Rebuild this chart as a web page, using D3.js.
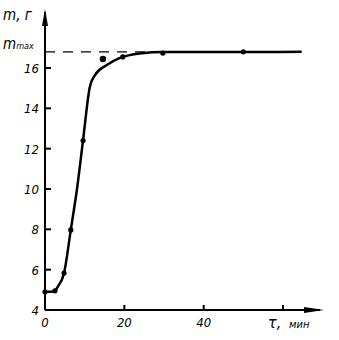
<!DOCTYPE html>
<html>
<head>
<meta charset="utf-8">
<script src="https://cdn.jsdelivr.net/npm/d3@7"></script>
<style>
  body { margin: 0; background: #fff; }
  text { font-family: "Liberation Sans Narrow", "DejaVu Sans Condensed", sans-serif; font-style: italic; fill: #000; }
</style>
</head>
<body>
<svg id="chart" width="339" height="340"></svg>
<script>
// fitted curve
var curveT = [0, 2.3, 3.2, 4.8, 6.5, 8.1, 9.6, 11.3, 12.6, 15.6, 18.9, 23.9, 30, 64.7]
var curveM = [4.9, 4.92, 5.15, 5.83, 7.97, 10.05, 12.43, 15.06, 15.65, 16.15, 16.5, 16.72, 16.79, 16.8]

// measured points
var pointT = [0, 2.5, 4.8, 6.5, 9.6, 14.6, 19.6, 29.7, 50]
var pointM = [4.9, 4.95, 5.83, 7.97, 12.4, 16.45, 16.55, 16.74, 16.8]

var mMax = 16.8
var xTicks = [0, 20, 40, 60]
var xTickLabels = ["0", "20", "40", ""]
var yTicks = [6, 8, 10, 12, 14, 16]

var svg = d3.select("#chart")

var x = d3.scaleLinear().domain([0, 60]).range([45, 283])
var y = d3.scaleLinear().domain([4, 16]).range([310, 68])

// axes
svg.append("line").attr("x1", 45).attr("x2", 45).attr("y1", 310).attr("y2", 12)
    .attr("stroke", "#000").attr("stroke-width", 2)
svg.append("line").attr("x1", 45).attr("x2", 320).attr("y1", 310).attr("y2", 310)
    .attr("stroke", "#000").attr("stroke-width", 2)

// arrows
svg.append("path").attr("d", "M45,9 L48,26 L42,26 Z").attr("fill", "#000")
svg.append("path").attr("d", "M324,310 L304,307 L304,313 Z").attr("fill", "#000")

// y ticks
svg.selectAll(".yt").data(yTicks).enter().append("line")
    .attr("x1", 45).attr("x2", 51)
    .attr("y1", function (d) { return y(d) }).attr("y2", function (d) { return y(d) })
    .attr("stroke", "#000").attr("stroke-width", 2)

svg.selectAll(".yl").data([4].concat(yTicks)).enter().append("text")
    .attr("x", 39).attr("y", function (d) { return y(d) + 5 })
    .attr("text-anchor", "end").attr("font-size", 13)
    .text(function (d) { return d })

// x ticks
svg.selectAll(".xt").data(xTicks.slice(1)).enter().append("line")
    .attr("x1", function (d) { return x(d) }).attr("x2", function (d) { return x(d) })
    .attr("y1", 310).attr("y2", 305)
    .attr("stroke", "#000").attr("stroke-width", 2)

svg.selectAll(".xl").data(xTicks).enter().append("text")
    .attr("x", function (d) { return x(d) }).attr("y", 327)
    .attr("text-anchor", "middle").attr("font-size", 13)
    .text(function (d, i) { return xTickLabels[i] })

// axis titles
svg.append("text").attr("x", 268).attr("y", 328).attr("font-size", 16).text("τ,")
svg.append("text").attr("x", 289).attr("y", 328).attr("font-size", 11).text("мин")
svg.append("text").attr("x", 3).attr("y", 20).attr("font-size", 15).text("m, г")
var mm = svg.append("text").attr("x", 3).attr("y", 49).attr("font-size", 15)
mm.append("tspan").text("m")
mm.append("tspan").attr("font-size", 9).text("max")

// m max dashed line
svg.append("line").attr("x1", 45).attr("x2", 300).attr("y1", y(mMax)).attr("y2", y(mMax))
    .attr("stroke", "#000").attr("stroke-width", 1.3).attr("stroke-dasharray", "10,8")

// curve
var line = d3.line()
    .x(function (d) { return x(d[0]) })
    .y(function (d) { return y(d[1]) })
    .curve(d3.curveMonotoneX)

svg.append("path").datum(d3.zip(curveT, curveM))
    .attr("d", line).attr("fill", "none")
    .attr("stroke", "#000").attr("stroke-width", 2.5)

svg.selectAll(".pt").data(d3.zip(pointT, pointM)).enter().append("circle")
    .attr("cx", function (d) { return x(d[0]) })
    .attr("cy", function (d) { return y(d[1]) })
    .attr("r", function (d, i) { return i == 5 ? 3.2 : 2.6 })
    .attr("fill", "#000")
</script>
</body>
</html>
